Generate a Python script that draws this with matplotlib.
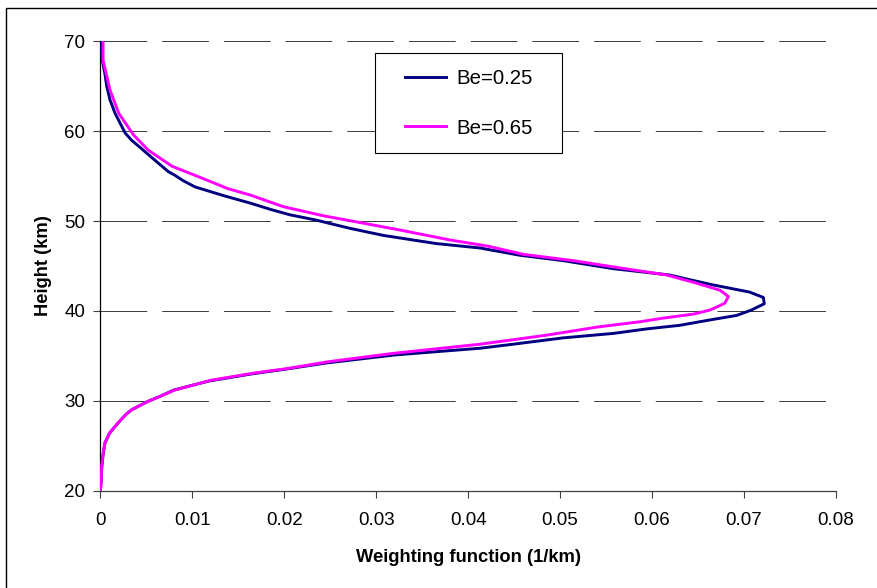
import matplotlib
matplotlib.use("Agg")
import matplotlib.pyplot as plt
from matplotlib.patches import Rectangle

plt.rcParams['font.family'] = ['Liberation Sans', 'DejaVu Sans']

# Be = 0.25 (navy)
h_025 = [20.0, 21.0, 22.5, 24.0, 25.3, 26.4, 27.5, 28.5, 29.0, 29.9, 30.5, 31.2,
         32.2, 33.0, 33.5, 34.2, 35.1, 35.85, 36.3, 37.0, 37.5, 38.0, 38.4, 39.0,
         39.5, 40.1, 40.8, 41.5, 42.1, 42.9, 43.5, 44.0, 44.7, 45.6, 46.2, 47.0,
         47.5, 48.4, 49.2, 50.1, 50.7, 51.3, 52.0, 52.8, 53.8, 54.5, 55.1, 55.5,
         56.8, 58.3, 59.0, 59.8, 61.0, 62.0, 63.5, 65.0, 66.4, 68.0, 70.0]
w_025 = [0.0, 0.0001, 0.00015, 0.0003, 0.0005, 0.001, 0.0019, 0.0028, 0.0034,
         0.0051, 0.0065, 0.008, 0.0118, 0.0165, 0.0200, 0.0245, 0.032, 0.0413,
         0.0449, 0.0503, 0.0558, 0.0594, 0.063, 0.0663, 0.0692, 0.0708, 0.0722,
         0.0721, 0.0706, 0.0666, 0.064, 0.0619, 0.0558, 0.0503, 0.0456, 0.0413,
         0.0365, 0.0308, 0.0271, 0.0235, 0.0206, 0.0185, 0.0163, 0.0135, 0.0103,
         0.009, 0.0081, 0.0074, 0.0059, 0.0042, 0.0034, 0.0027, 0.0021, 0.0016,
         0.00105, 0.0007, 0.0005, 0.0002, 0.00005]

# Be = 0.65 (magenta)
h_065 = [20.0, 21.0, 22.7, 24.0, 25.3, 26.4, 27.5, 28.5, 29.0, 29.9, 30.5, 31.2,
         32.3, 33.1, 33.6, 34.35, 35.3, 36.3, 37.3, 38.2, 38.8, 39.2, 39.65, 40.1,
         40.85, 41.6, 42.3, 43.1, 44.0, 44.9, 45.6, 46.3, 47.2, 47.9, 49.0, 49.9,
         50.6, 51.6, 52.9, 53.6, 54.8, 56.1, 57.9, 59.6, 62.0, 64.6, 67.9, 70.0]
w_065 = [0.0, 0.0001, 0.00015, 0.0003, 0.0005, 0.001, 0.0019, 0.0028, 0.0034,
         0.0051, 0.0065, 0.0081, 0.0121, 0.0168, 0.0204, 0.0248, 0.032, 0.0413,
         0.0485, 0.054, 0.0587, 0.0612, 0.0645, 0.0663, 0.0679, 0.0683, 0.0674,
         0.0648, 0.0616, 0.0558, 0.0514, 0.046, 0.0422, 0.038, 0.0326, 0.0279,
         0.0242, 0.0199, 0.0163, 0.0139, 0.011, 0.0078, 0.0052, 0.0036, 0.002,
         0.00105, 0.0003, 0.0003]

x_ticks = [0, 0.01, 0.02, 0.03, 0.04, 0.05, 0.06, 0.07, 0.08]
x_ticklabels = ['0', '0.01', '0.02', '0.03', '0.04', '0.05', '0.06', '0.07', '0.08']
y_ticks = [20, 30, 40, 50, 60, 70]

W, H = 877, 588
fig = plt.figure(figsize=(W / 100, H / 100), dpi=100)
ax = fig.add_axes([100.3 / W, 1 - 490.7 / H, (836 - 100.3) / W, (490.7 - 41.3) / H])

# outer frame (left and top edges visible)
fig.patches.append(Rectangle((6 / W, -0.1), 1.2, 1 - 8 / H + 0.1, transform=fig.transFigure,
                             fill=False, edgecolor='black', linewidth=1.0))

ax.plot(w_025, h_025, color='#000080', lw=2.1, label='Be=0.25', zorder=3)
ax.plot(w_065, h_065, color='#FF00FF', lw=2.1, label='Be=0.65', zorder=4)

ax.set_xlim(0, 0.08)
ax.set_ylim(20, 70)
ax.set_xticks(x_ticks)
ax.set_xticklabels(x_ticklabels)
ax.set_yticks(y_ticks)

for yv in y_ticks[1:]:
    ax.axhline(yv, color='#404040', lw=0.72, linestyle=(0, (46.7, 15)), zorder=1)

for s in ['top', 'right']:
    ax.spines[s].set_visible(False)
ax.spines['left'].set_color('black')
ax.spines['bottom'].set_color('#404040')
ax.spines['left'].set_linewidth(0.9)
ax.spines['bottom'].set_linewidth(0.9)

ax.tick_params(axis='both', direction='out', length=5, width=0.8, color='#404040',
               labelsize=13.5, pad=6)
ax.tick_params(axis='x', pad=10)

ax.set_xlabel('Weighting function (1/km)', fontsize=13.2, fontweight='bold', labelpad=15)
ax.set_ylabel('Height (km)', fontsize=13.2, fontweight='bold', labelpad=9)

# legend box (white, black border) behind the legend entries
ax.add_patch(Rectangle((375 / W, 1 - 153 / H), (562 - 375) / W, (153 - 53) / H,
                       transform=fig.transFigure, facecolor='white', edgecolor='black',
                       linewidth=0.8, zorder=5, clip_on=False))

lx = (405 - 100.3) / (836 - 100.3)
ly = 1 - (69 - 41.3) / (490.7 - 41.3)
leg = ax.legend(loc='upper left', bbox_to_anchor=(lx, ly), fontsize=14.7,
                frameon=False, borderpad=0, labelspacing=1.5, handlelength=2.0,
                handletextpad=0.5, borderaxespad=0)
leg.set_zorder(6)

fig.savefig('out.png', dpi=100)
